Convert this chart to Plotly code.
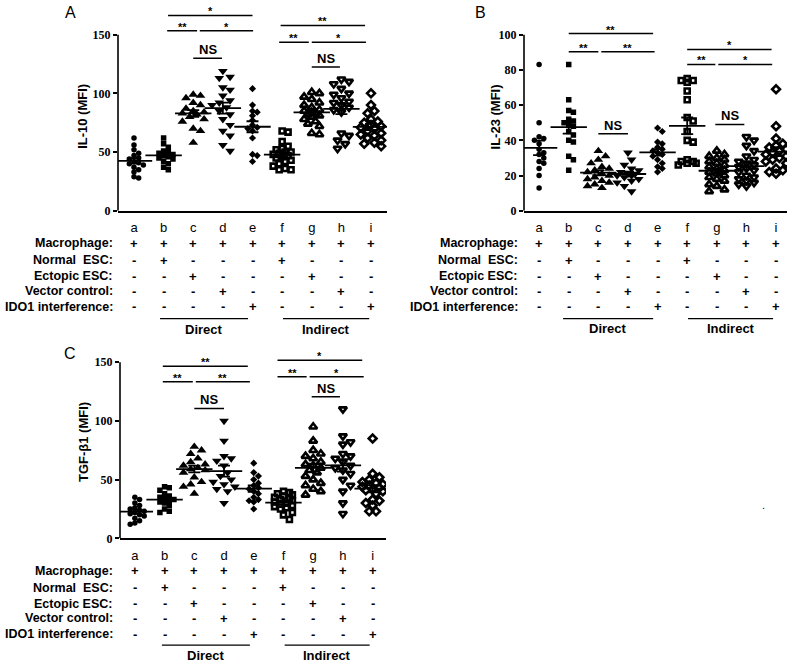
import numpy as np
import plotly.graph_objects as go

groups = ['a', 'b', 'c', 'd', 'e', 'f', 'g', 'h', 'i']

# IL-10 (MFI), panel A
il10_a = [62, 56, 52, 49, 47, 45, 44, 42, 41, 40, 39, 37, 35, 33, 29, 28]
il10_b = [62, 57, 54, 51, 50, 49, 48, 47, 46, 45, 44, 42, 40, 37, 35]
il10_c = [99, 98, 96, 92, 90, 87, 85, 84, 83, 82, 80, 78, 76, 70, 68, 58]
il10_d = [119, 114, 113, 105, 103, 98, 94, 92, 90, 88, 85, 82, 78, 73, 68, 64, 56, 51]
il10_e = [104, 90, 85, 84, 81, 77, 73, 71, 70, 68, 62, 48, 47, 42]
il10_f = [68, 67, 59, 55, 53, 52, 50, 50, 49, 48, 47, 46, 45, 43, 42, 40, 38, 36, 35, 35]
il10_g = [101, 100, 97, 95, 92, 90, 88, 86, 85, 84, 83, 82, 81, 80, 78, 76, 74, 72, 66, 65]
il10_h = [112, 110, 108, 104, 100, 99, 96, 93, 92, 90, 88, 86, 84, 66, 64, 60, 57, 53]
il10_i = [100, 90, 85, 83, 78, 76, 75, 73, 72, 71, 70, 68, 66, 65, 64, 62, 60, 58, 57, 55]

# IL-23 (MFI), panel B
il23_a = [83, 50, 42, 41, 40, 38, 35, 33, 32, 30, 28, 27, 24, 20, 13]
il23_b = [83, 63, 57, 56, 52, 51, 50, 49, 48, 45, 43, 40, 39, 31, 29, 23]
il23_c = [34, 31, 29, 27, 25, 24, 23, 22, 21, 20, 19, 18, 17, 16, 15, 14, 13]
il23_d = [33, 29, 26, 24, 23, 22, 21, 21, 20, 20, 19, 18, 17, 16, 14, 11]
il23_e = [47, 45, 39, 38, 36, 35, 34, 33, 32, 31, 29, 27, 25, 24, 22]
il23_f = [75, 74, 74, 73, 68, 63, 53, 51, 45, 40, 39, 29, 28, 28, 27, 27, 26]
il23_g = [34, 32, 31, 30, 29, 28, 27, 26, 25, 24, 23, 22, 22, 21, 20, 19, 18, 17, 15, 14, 12, 11]
il23_h = [42, 40, 37, 34, 31, 29, 28, 27, 26, 25, 24, 23, 22, 20, 19, 18, 17, 16, 15, 14]
il23_i = [69, 48, 41, 38, 37, 36, 35, 34, 33, 32, 31, 30, 29, 28, 27, 24, 23, 22, 21]

# TGF-b1 (MFI), panel C
tgf_a = [35, 33, 30, 28, 26, 25, 24, 23, 22, 21, 20, 19, 17, 15, 13, 12]
tgf_b = [44, 43, 41, 38, 36, 35, 34, 33, 32, 31, 30, 28, 25, 23, 22]
tgf_c = [78, 75, 72, 68, 65, 63, 62, 60, 59, 58, 56, 52, 48, 46, 44, 38]
tgf_d = [100, 83, 70, 68, 66, 62, 56, 53, 50, 48, 46, 44, 42, 40, 30]
tgf_e = [64, 56, 53, 50, 47, 45, 43, 42, 40, 38, 35, 33, 32, 31, 25]
tgf_f = [40, 39, 38, 37, 36, 35, 34, 33, 32, 31, 30, 29, 28, 27, 26, 25, 22, 20, 16]
tgf_g = [95, 83, 75, 72, 70, 68, 65, 63, 62, 60, 58, 56, 53, 50, 47, 45, 42, 40, 37]
tgf_h = [110, 87, 82, 80, 72, 70, 68, 65, 62, 60, 58, 55, 50, 45, 40, 30, 21]
tgf_i = [85, 55, 52, 50, 48, 47, 46, 45, 44, 43, 42, 41, 40, 38, 33, 32, 30, 28, 23, 23]

row_labels = ['Macrophage:', 'Normal  ESC:', 'Ectopic ESC:', 'Vector control:', 'IDO1 interference:']
row_signs = ['+++++++++', '-+---+---', '--+---+--', '---+---+-', '----+---+']

# significance brackets: (from, to, height, label)
sig_a = [(1.15, 4.0, 166.3, '*'), (1.12, 2.13, 153.4, '**'), (2.22, 4.02, 153.4, '*'),
         (2.0, 2.97, 129.8, 'NS'), (4.95, 7.8, 157.8, '**'), (4.9, 5.9, 143.5, '**'),
         (6.0, 7.83, 143.5, '*'), (6.0, 6.95, 122.4, 'NS')]
sig_b = [(1.0, 3.85, 100.6, '**'), (1.0, 2.0, 90.3, '**'), (2.1, 3.9, 90.3, '**'),
         (2.0, 3.0, 43.8, 'NS'), (5.0, 7.85, 91.6, '*'), (5.0, 5.95, 83.1, '**'),
         (6.05, 7.87, 83.1, '*'), (5.95, 6.93, 49, 'NS')]
sig_c = [(0.94, 3.8, 146.6, '**'), (0.94, 1.95, 133.4, '**'), (2.05, 3.87, 133.4, '**'),
         (2.0, 3.0, 110.6, 'NS'), (4.8, 7.65, 151.7, '*'), (4.8, 5.78, 137.6, '**'),
         (5.88, 7.7, 137.6, '*'), (5.95, 6.9, 120.5, 'NS')]

symbols = ['circle', 'square', 'triangle-up', 'triangle-down', 'diamond',
           'square-open', 'triangle-up-open', 'triangle-down-open', 'diamond-open']
sizes = [5.5, 5.5, 8.5, 8.5, 5.5, 5, 7, 7, 6]

W, H = 800, 672
SANS = 'Liberation Sans, Arial, sans-serif'
SERIF = 'Liberation Serif, Times New Roman, serif'

panels = [
    dict(letter='A', title='IL-10 (MFI)', tick=150, title_y=80,
         data=[il10_a, il10_b, il10_c, il10_d, il10_e, il10_f, il10_g, il10_h, il10_i], sig=sig_a,
         left=118, right=387, y0=213, ytick=35, top=5, xr=[-0.54, 8.54],
         title_x=83, label_right=115, letter_xy=(70, 13),
         rows=[246, 263, 279, 294.5, 310], line_y=322, word_y=333,
         direct=(0.88, 3.85), indirect=(5.03, 7.94)),
    dict(letter='B', title='IL-23 (MFI)', tick=100, title_y=53,
         data=[il23_a, il23_b, il23_c, il23_d, il23_e, il23_f, il23_g, il23_h, il23_i], sig=sig_b,
         left=524, right=787, y0=213, ytick=35, top=5, xr=[-0.51, 8.37],
         title_x=495, label_right=520, letter_xy=(480, 13),
         rows=[246, 263, 279, 294.5, 310], line_y=322, word_y=332,
         direct=(0.81, 3.85), indirect=(5.03, 7.9)),
    dict(letter='C', title='TGF-β1 (MFI)', tick=150, title_y=82,
         data=[tgf_a, tgf_b, tgf_c, tgf_d, tgf_e, tgf_f, tgf_g, tgf_h, tgf_i], sig=sig_c,
         left=120, right=386, y0=544, ytick=366, top=345, xr=[-0.5, 8.45],
         title_x=83, label_right=115, letter_xy=(70, 357),
         rows=[577, 594, 610, 625, 641], line_y=652, word_y=662,
         direct=(0.91, 3.87), indirect=(5.04, 7.9)),
]


def swarm(vals, px_unit, px_cat, diam, max_px=11):
    vals = np.asarray(vals, float)
    offs = np.zeros(len(vals))
    placed = []
    for k in np.argsort(-vals):
        yk = vals[k] * px_unit
        best, best_gap = 0.0, -1.0
        for n in range(0, 30):
            step = (n + 1) // 2 * (1 if n % 2 else -1) * diam * 0.5
            if abs(step) > max_px:
                break
            gap = min([np.hypot(step - xp, yk - yp) for xp, yp in placed] or [99])
            if gap >= diam:
                best = step
                break
            if gap > best_gap:
                best, best_gap = step, gap
        placed.append((best, yk))
        offs[k] = best / px_cat
    return offs


def txt(text, x, y, xref='paper', yref='paper', size=12, family=SANS, bold=True, **kw):
    font = dict(family=family, size=size, color='black')
    if bold:
        font['weight'] = 'bold'
    d = dict(text=text, x=x, y=y, xref=xref, yref=yref, showarrow=False,
             xanchor='center', yanchor='middle', font=font)
    d.update(kw)
    return d


fig = go.Figure()
shapes = []
annotations = []

for p, pan in enumerate(panels):
    sfx = '' if p == 0 else str(p + 1)
    xa, ya = 'x' + sfx, 'y' + sfx
    px_unit = (pan['y0'] - pan['ytick']) / pan['tick']
    px_cat = (pan['right'] - pan['left']) / (pan['xr'][1] - pan['xr'][0])
    ytop = (pan['y0'] - pan['top']) / px_unit

    for g, vals in enumerate(pan['data']):
        open_sym = symbols[g].endswith('open')
        offs = swarm(vals, px_unit, px_cat, (sizes[g] + (2 if open_sym else 0)) * 0.85)
        fig.add_trace(go.Scatter(
            x=g + offs, y=vals, mode='markers', xaxis=xa, yaxis=ya,
            marker=dict(symbol=symbols[g], size=sizes[g], color='black',
                        line=dict(color='black', width=2.6 if open_sym else 0)),
            showlegend=False, hoverinfo='y'))
        arr = np.asarray(vals, float)
        mean = arr.mean()
        sem = arr.std(ddof=1) / np.sqrt(len(arr))
        fig.add_trace(go.Scatter(
            x=[g], y=[mean], mode='markers', xaxis=xa, yaxis=ya,
            marker=dict(symbol='line-ew', size=26, line=dict(color='black', width=1.8)),
            error_y=dict(type='data', array=[sem], color='black', thickness=1.8, width=6),
            showlegend=False, hoverinfo='y'))

    yticks = [0, 50, 100, 150] if pan['tick'] == 150 else [0, 20, 40, 60, 80, 100]
    fig.update_layout(**{
        'xaxis' + sfx: dict(domain=[pan['left'] / W, pan['right'] / W], range=pan['xr'],
                            anchor=ya, showgrid=False, zeroline=False, showline=True,
                            linecolor='black', linewidth=1.6, ticks='',
                            tickvals=list(range(9)), ticktext=groups, ticklabelstandoff=4,
                            tickfont=dict(family=SANS, size=13, color='black')),
        'yaxis' + sfx: dict(domain=[1 - pan['y0'] / H, 1 - pan['top'] / H], range=[0, ytop],
                            anchor=xa, showgrid=False, zeroline=False, showline=False,
                            ticks='outside', ticklen=4, tickwidth=1.6, tickcolor='black',
                            tickvals=yticks,
                            tickfont=dict(family=SERIF, size=12, color='black', weight='bold')),
    })

    # y axis line only up to the top tick
    shapes.append(dict(type='line', xref=xa + ' domain', yref=ya, x0=0, x1=0,
                       y0=0, y1=pan['tick'], line=dict(color='black', width=1.6)))

    annotations.append(txt(pan['title'], pan['title_x'] / W, pan['title_y'], yref=ya,
                           size=13, textangle=-90))
    annotations.append(txt(pan['letter'], pan['letter_xy'][0] / W, 1 - pan['letter_xy'][1] / H,
                           size=16, bold=False))

    for x0, x1, yv, lab in pan['sig']:
        shapes.append(dict(type='line', xref=xa, yref=ya, x0=x0, x1=x1, y0=yv, y1=yv,
                           line=dict(color='black', width=1.5)))
        if lab == 'NS':
            annotations.append(txt(lab, (x0 + x1) / 2, yv, xref=xa, yref=ya, size=13,
                                   yanchor='bottom', yshift=-1))
        else:
            annotations.append(txt(lab, (x0 + x1) / 2, yv, xref=xa, yref=ya, size=11,
                                   yanchor='bottom', yshift=-4))

    # condition table under the axis
    for r, (lab, signs) in enumerate(zip(row_labels, row_signs)):
        yp = 1 - pan['rows'][r] / H
        annotations.append(txt(lab, pan['label_right'] / W, yp, xanchor='right', size=12.5))
        for g, s in enumerate(signs):
            annotations.append(txt(s, g, yp, xref=xa, size=13))
    for (x0, x1), word in zip([pan['direct'], pan['indirect']], ['Direct', 'Indirect']):
        shapes.append(dict(type='line', xref=xa, yref='paper', x0=x0, x1=x1,
                           y0=1 - pan['line_y'] / H, y1=1 - pan['line_y'] / H,
                           line=dict(color='black', width=1.2)))
        annotations.append(txt(word, (x0 + x1) / 2, 1 - pan['word_y'] / H, xref=xa, size=13))

annotations.append(txt('.', 763 / W, 1 - 510 / H, size=11, bold=False))

fig.update_layout(width=W, height=H, margin=dict(l=0, r=0, t=0, b=0),
                  plot_bgcolor='white', paper_bgcolor='white',
                  shapes=shapes, annotations=annotations, showlegend=False)

fig.write_html("out.html", config={'displayModeBar': False},
               post_script="document.body.style.margin='0';")
